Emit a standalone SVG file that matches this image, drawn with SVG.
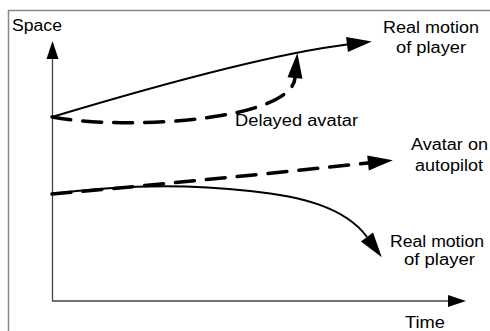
<svg xmlns="http://www.w3.org/2000/svg" width="490" height="331" viewBox="0 0 490 331">
  <style>
    .frame { fill: none; stroke: #888; stroke-width: 1.5; }
    .axis { fill: none; stroke: #444; stroke-width: 1.3; }
    .solid { fill: none; stroke: #000; stroke-width: 2; }
    .dashed { fill: none; stroke: #000; stroke-width: 3.5; stroke-dasharray: 19 12; stroke-linecap: round; }
    .label { font-family: "Liberation Sans", Arial, sans-serif; font-size: 16px; fill: #000; }
  </style>
  <defs>
    <marker id="head" markerUnits="userSpaceOnUse" markerWidth="28" markerHeight="18" refX="0" refY="8" orient="auto" overflow="visible">
      <path d="M0,0.5 L25,8 L0,15.5 z" fill="#000"/>
    </marker>
    <marker id="axisHead" markerUnits="userSpaceOnUse" markerWidth="20" markerHeight="12" refX="0" refY="6" orient="auto" overflow="visible">
      <path d="M0,0 L18,6 L0,12 z" fill="#000"/>
    </marker>
  </defs>

  <rect class="frame" x="8.5" y="10.5" width="500" height="400"/>

  <g id="axes">
    <path class="axis" d="M52.5,301 V59" marker-end="url(#axisHead)"/>
    <path class="axis" d="M52,301 H448" marker-end="url(#axisHead)"/>
  </g>

  <g id="connectors">
    <!-- upper pair: real motion and delayed avatar -->
    <path id="real-upper" class="solid" d="M52,117 Q255,56 347,44.5" marker-end="url(#head)"/>
    <path id="delayed" class="dashed" d="M52,117 C130,131 291,120 295,78" marker-end="url(#head)"/>
    <!-- lower pair: autopilot and real motion -->
    <path id="autopilot" class="dashed" d="M52,194 Q210,180 368,163" marker-end="url(#head)"/>
    <path id="real-lower" class="solid" d="M52,194 C110,186 180,183 250,191 C300,196 345,207 367,237" marker-end="url(#head)"/>
  </g>

  <g id="labels">
    <text class="label" x="12" y="31" textLength="50" lengthAdjust="spacingAndGlyphs">Space</text>
    <text class="label" x="405" y="328" textLength="40" lengthAdjust="spacingAndGlyphs">Time</text>
    <g id="label-real-upper">
      <text class="label" x="383" y="33" textLength="96" lengthAdjust="spacingAndGlyphs">Real motion</text>
      <text class="label" x="396" y="53" textLength="70" lengthAdjust="spacingAndGlyphs">of player</text>
    </g>
    <g id="label-delayed">
      <text class="label" x="235" y="126" textLength="123" lengthAdjust="spacingAndGlyphs">Delayed avatar</text>
    </g>
    <g id="label-autopilot">
      <text class="label" x="411" y="150" textLength="77" lengthAdjust="spacingAndGlyphs">Avatar on</text>
      <text class="label" x="415" y="171" textLength="68" lengthAdjust="spacingAndGlyphs">autopilot</text>
    </g>
    <g id="label-real-lower">
      <text class="label" x="390" y="247" textLength="94" lengthAdjust="spacingAndGlyphs">Real motion</text>
      <text class="label" x="404" y="265" textLength="71" lengthAdjust="spacingAndGlyphs">of player</text>
    </g>
  </g>
</svg>
